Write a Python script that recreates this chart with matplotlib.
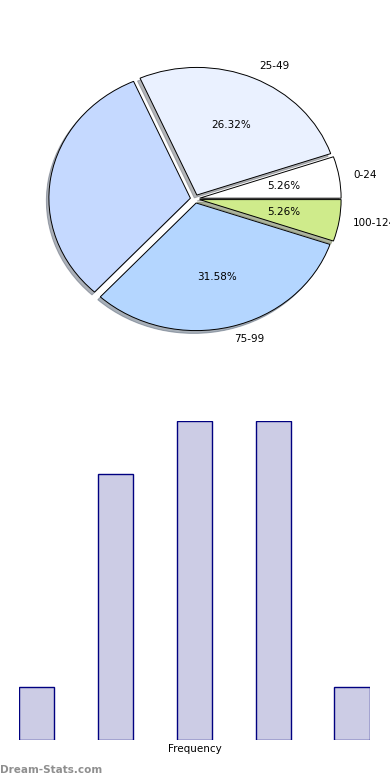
import matplotlib
matplotlib.use("Agg")
import matplotlib.pyplot as plt

categories = ["0-24", "25-49", "50-74", "75-99", "100-124"]
frequencies = [1, 5, 6, 6, 1]
pie_colors = ["#FFFFFF", "#EAF1FF", "#C5D9FF", "#B4D6FF", "#CFEB8B"]
hidden_slice = "50-74"

fig = plt.figure(figsize=(3.9, 7.8), dpi=100)

# Pie chart (elliptical, aspect auto)
ax1 = fig.add_axes([0.0465, 0.5405, 0.907, 0.409])
wedges, texts, autotexts = ax1.pie(
    frequencies,
    labels=categories,
    colors=pie_colors,
    explode=[0.033] * len(frequencies),
    autopct="%.2f%%",
    shadow=dict(ox=-0.013, oy=-0.016, shade=0.55),
    startangle=0,
    counterclock=True,
    wedgeprops=dict(edgecolor="black", linewidth=0.7),
    textprops=dict(fontsize=7.5, color="black"),
)
ax1.set_aspect("auto")
ax1.set_xlim(-1.25, 1.25)
ax1.set_ylim(-1.25, 1.25)
for cat, t, at in zip(categories, texts, autotexts):
    if cat == hidden_slice:
        t.set_visible(False)
        at.set_visible(False)

# Bar chart
ax2 = fig.add_axes([0.0487, 0.0513, 0.9, 0.409])
w = 0.45
xs = list(range(len(frequencies)))
ax2.bar(xs, frequencies, width=w, color=(0, 0, 0.5, 0.2),
        edgecolor="navy", linewidth=1.0)
ax2.set_xlim(-w / 2, len(frequencies) - 1 + w / 2)
ax2.set_ylim(0, max(frequencies))
for s in ax2.spines.values():
    s.set_visible(False)
ax2.set_xticks([])
ax2.set_yticks([])
ax2.set_xlabel("Frequency", fontsize=7.5, labelpad=3)

fig.text(0.0, 0.0128, "Dream-Stats.com", fontsize=7.5, color="#8f8f8f",
         fontweight="bold", ha="left", va="center")

fig.savefig("out.png", dpi=100)
